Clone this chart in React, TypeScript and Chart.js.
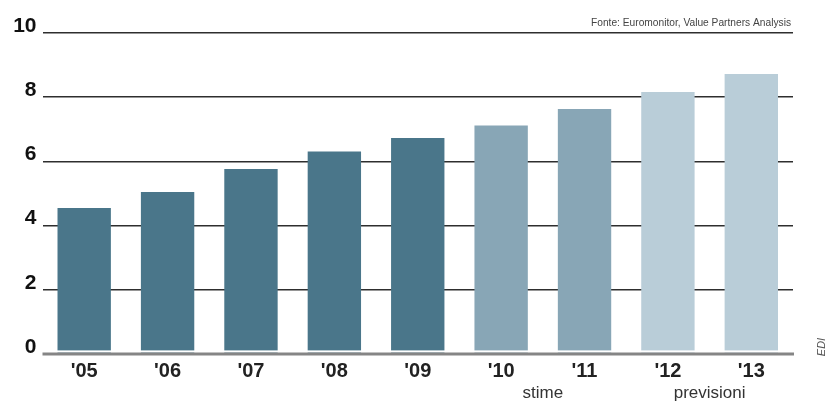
import React, { useEffect, useRef } from "react";
import { Chart, registerables } from "chart.js";

Chart.register(...registerables);

const categories = ["'05", "'06", "'07", "'08", "'09", "'10", "'11", "'12", "'13"];
const values = [4.55, 5.05, 5.76, 6.31, 6.73, 7.12, 7.63, 8.16, 8.72];
const barColors = [
  "#4a768a", "#4a768a", "#4a768a", "#4a768a", "#4a768a",
  "#88a6b6", "#88a6b6",
  "#b9cdd8", "#b9cdd8",
];
const yTickValues = [0, 2, 4, 6, 8, 10];
const phaseNames = ["stime", "previsioni"];
const phaseStart = [5, 7];
const phaseEnd = [6, 8];
const sourceText = "Fonte: Euromonitor, Value Partners Analysis";
const creditText = "EDI";

const FONT = '"Liberation Sans", Arial, sans-serif';

const decorPlugin = {
  id: "decor",
  afterDatasetsDraw(chart: any) {
    const { ctx, chartArea, scales } = chart;
    const y0 = scales.y.getPixelForValue(0);
    ctx.save();
    // white gap above axis line
    ctx.fillStyle = "#ffffff";
    ctx.fillRect(chartArea.left, y0 - 3.6, chartArea.right - chartArea.left, 2.2);
    // axis line
    ctx.strokeStyle = "#858585";
    ctx.lineWidth = 3;
    ctx.beginPath();
    ctx.moveTo(chartArea.left, y0);
    ctx.lineTo(chartArea.right + 1, y0);
    ctx.stroke();
    ctx.restore();
  },
  afterDraw(chart: any) {
    const { ctx, chartArea, scales } = chart;
    ctx.save();
    // phase labels
    ctx.fillStyle = "#333";
    ctx.font = `17px ${FONT}`;
    ctx.textAlign = "center";
    ctx.textBaseline = "alphabetic";
    phaseNames.forEach((name, i) => {
      const x = (scales.x.getPixelForValue(phaseStart[i]) + scales.x.getPixelForValue(phaseEnd[i])) / 2;
      ctx.fillText(name, x, 398);
    });
    // source
    ctx.fillStyle = "#444";
    ctx.font = `11px "Liberation Sans Narrow", ${FONT}`;
    ctx.textAlign = "right";
    ctx.fillText(sourceText, chartArea.right - 2, 26, 200);
    // credit
    ctx.translate(822, 347);
    ctx.rotate(-Math.PI / 2);
    ctx.fillStyle = "#555";
    ctx.font = `italic 11px ${FONT}`;
    ctx.textAlign = "center";
    ctx.textBaseline = "middle";
    ctx.fillText(creditText, 0, 0);
    ctx.restore();
  },
};

export default function App() {
  const ref = useRef<HTMLCanvasElement | null>(null);
  useEffect(() => {
    if (!ref.current) return;
    const chart = new Chart(ref.current, {
      type: "bar",
      data: {
        labels: categories,
        datasets: [
          {
            data: values,
            backgroundColor: barColors,
            borderWidth: 0,
            barPercentage: 0.64,
            categoryPercentage: 1,
          },
        ],
      },
      options: {
        animation: false,
        responsive: false,
        devicePixelRatio: 1,
        layout: { padding: { top: 33, right: 44, bottom: 0, left: 0 } },
        plugins: { legend: { display: false }, tooltip: { enabled: false } },
        scales: {
          x: {
            grid: { display: false, drawTicks: false },
            border: { display: false },
            ticks: {
              font: { family: FONT, size: 20, weight: "bold" },
              color: "#222",
              padding: 5,
              maxRotation: 0,
              autoSkip: false,
            },
            afterFit: (s: any) => { s.height = 49; },
          },
          y: {
            min: 0,
            max: 10,
            afterBuildTicks: (s: any) => { s.ticks = yTickValues.map((v) => ({ value: v })); },
            grid: {
              drawTicks: false,
              color: (c: any) => (c.tick && c.tick.value === 0 ? "rgba(0,0,0,0)" : "#2e2e2e"),
              lineWidth: 1.6,
            },
            border: { display: false },
            ticks: {
              font: { family: FONT, size: 21, weight: "bold" },
              color: "#111",
              padding: 6,
              labelOffset: -7,
            },
            afterFit: (s: any) => { s.width = 42.5; },
          },
        },
      },
      plugins: [decorPlugin],
    });
    return () => chart.destroy();
  }, []);
  return (
    <div style={{ position: "absolute", left: 0, top: 0, width: 837, height: 403, background: "#fff" }}>
      <canvas ref={ref} width={837} height={403} />
    </div>
  );
}
